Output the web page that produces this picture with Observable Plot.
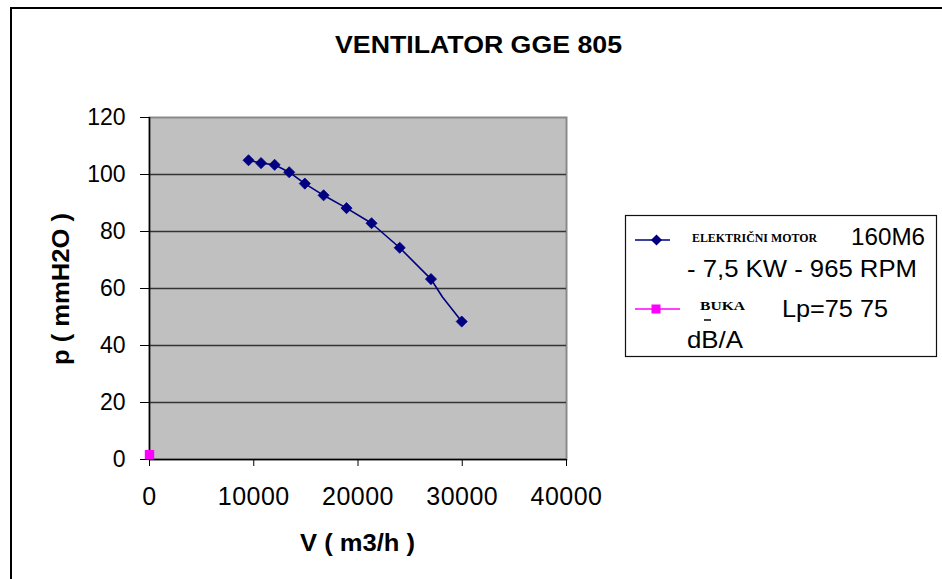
<!DOCTYPE html>
<html>
<head>
<meta charset="utf-8">
<script src="https://cdn.jsdelivr.net/npm/d3@7"></script>
<script src="https://cdn.jsdelivr.net/npm/@observablehq/plot@0.6"></script>
<style>
  html, body { margin: 0; padding: 0; background: #fff; }
  #wrap { position: relative; width: 942px; height: 579px; overflow: hidden; font-family: "Liberation Sans", Arial, sans-serif; }
  #chart, #overlay { position: absolute; left: 0; top: 0; }
  #overlay { pointer-events: none; }
  #frame { position: absolute; left: 10px; top: 7px; right: -5px; bottom: -5px; border-top: 2px solid #000; border-left: 2px solid #000; }
  g[aria-label="x-axis tick label"] text { letter-spacing: 0.5px; }
</style>
</head>
<body>
<div id="wrap">
  <div id="frame"></div>
  <div id="chart"></div>
  <svg id="overlay" width="942" height="579"></svg>
</div>
<script>
// ---- data ----
const title = "VENTILATOR GGE 805";
const xLabel = "V ( m3/h )";
const yLabel = "p ( mmH2O )";
const xTicks = [0, 10000, 20000, 30000, 40000];
const yTicks = [0, 20, 40, 60, 80, 100, 120];
const gridY = [20, 40, 60, 80, 100];

// fan curve points (marked)
const flowV = [9500, 10700, 12000, 13400, 14900, 16700, 18900, 21300, 24000, 27000, 29950];
const pressureP = [105, 104, 103.4, 100.8, 96.8, 92.7, 88.2, 82.9, 74.3, 63.3, 48.4];
// extra unmarked vertex on the line between the last two points
const bendV = [28100];
const bendP = [57];

// BUKA series
const bukaV = [0];
const bukaP = [1.7];

const seriesNames = ["ELEKTRIČNI MOTOR", "BUKA"];

const points = flowV.map((v, i) => ({v, p: pressureP[i]}));
const linePts = points.concat(bendV.map((v, i) => ({v, p: bendP[i]}))).sort((a, b) => a.v - b.v);
const buka = bukaV.map((v, i) => ({v, p: bukaP[i]}));

const fmt = d => String(d);

const plot = Plot.plot({
  width: 942,
  height: 579,
  marginLeft: 149,
  marginRight: 376,
  marginTop: 117,
  marginBottom: 120,
  style: {background: "transparent", fontFamily: "'Liberation Sans', Arial, sans-serif", color: "#000"},
  x: {domain: [0, 40000]},
  y: {domain: [0, 120]},
  marks: [
    Plot.frame({fill: "#C0C0C0", stroke: "#8a8a8a", strokeWidth: 2}),
    Plot.ruleY(gridY, {stroke: "#333", strokeWidth: 1.3}),
    Plot.ruleY([0], {stroke: "#000", strokeWidth: 1.5}),
    Plot.ruleX([0], {stroke: "#000", strokeWidth: 1.5}),
    Plot.axisX({ticks: xTicks, tickFormat: fmt, tickSize: 7, tickPadding: 21, fontSize: 25, label: null}),
    Plot.axisY({ticks: yTicks, tickFormat: fmt, tickSize: 9, tickPadding: 15, fontSize: 23, label: null}),
    Plot.line(linePts, {x: "v", y: "p", stroke: "#000080", strokeWidth: 1.6}),
    Plot.dot(points, {x: "v", y: "p", symbol: "diamond2", r: 5, fill: "#000080", stroke: "#000080", strokeWidth: 0.8}),
    Plot.dot(buka, {x: "v", y: "p", symbol: "square", r: 5.3, fill: "#FF00FF", stroke: "none"})
  ]
});
document.getElementById("chart").appendChild(plot);

// ---- overlay: title, axis labels, legend ----
const ov = d3.select("#overlay");
const sans = "'Liberation Sans', Arial, sans-serif";
const serif = "'Liberation Serif', 'Times New Roman', serif";

function txt(s, x, y, opts = {}) {
  const t = ov.append("text").attr("x", x).attr("y", y).text(s)
    .attr("font-family", opts.family || sans)
    .attr("font-size", opts.size || 24)
    .attr("font-weight", opts.weight || "normal")
    .attr("fill", "#000");
  if (opts.len) t.attr("textLength", opts.len).attr("lengthAdjust", "spacingAndGlyphs");
  if (opts.transform) t.attr("transform", opts.transform);
  return t;
}

txt(title, 335, 53, {size: 24, weight: "bold", len: 287});
txt(xLabel, 300, 551, {size: 23, weight: "bold", len: 115});
txt(yLabel, 0, 0, {size: 23, weight: "bold", len: 152, transform: "translate(69,365) rotate(-90)"});

// legend box
ov.append("rect").attr("x", 625.5).attr("y", 215.5).attr("width", 311).attr("height", 141)
  .attr("fill", "#fff").attr("stroke", "#111").attr("stroke-width", 1.2);

// swatch 1
ov.append("line").attr("x1", 635).attr("x2", 670).attr("y1", 240).attr("y2", 240)
  .attr("stroke", "#000080").attr("stroke-width", 1.6);
ov.append("path").attr("d", d3.symbol(d3.symbolDiamond2, Math.PI * 25)())
  .attr("transform", "translate(656.5,240)").attr("fill", "#000080");
// swatch 2
ov.append("line").attr("x1", 635).attr("x2", 680).attr("y1", 309).attr("y2", 309)
  .attr("stroke", "#FF00FF").attr("stroke-width", 1.6);
ov.append("rect").attr("x", 651.5).attr("y", 304.5).attr("width", 9).attr("height", 9).attr("fill", "#FF00FF");

txt(seriesNames[0], 692, 242, {family: serif, size: 12, weight: "bold", len: 125});
txt("160M6", 851, 245, {size: 24, len: 74});
txt("- 7,5 KW - 965 RPM", 687, 277, {size: 24, len: 230});
txt(seriesNames[1], 700, 310, {family: serif, size: 12, weight: "bold", len: 45});
ov.append("line").attr("x1", 704).attr("x2", 711).attr("y1", 320).attr("y2", 320).attr("stroke", "#000").attr("stroke-width", 1.5);
txt("Lp=75 75", 782, 317, {size: 24, len: 106});
txt("dB/A", 687, 348, {size: 24, len: 56});
</script>
</body>
</html>
